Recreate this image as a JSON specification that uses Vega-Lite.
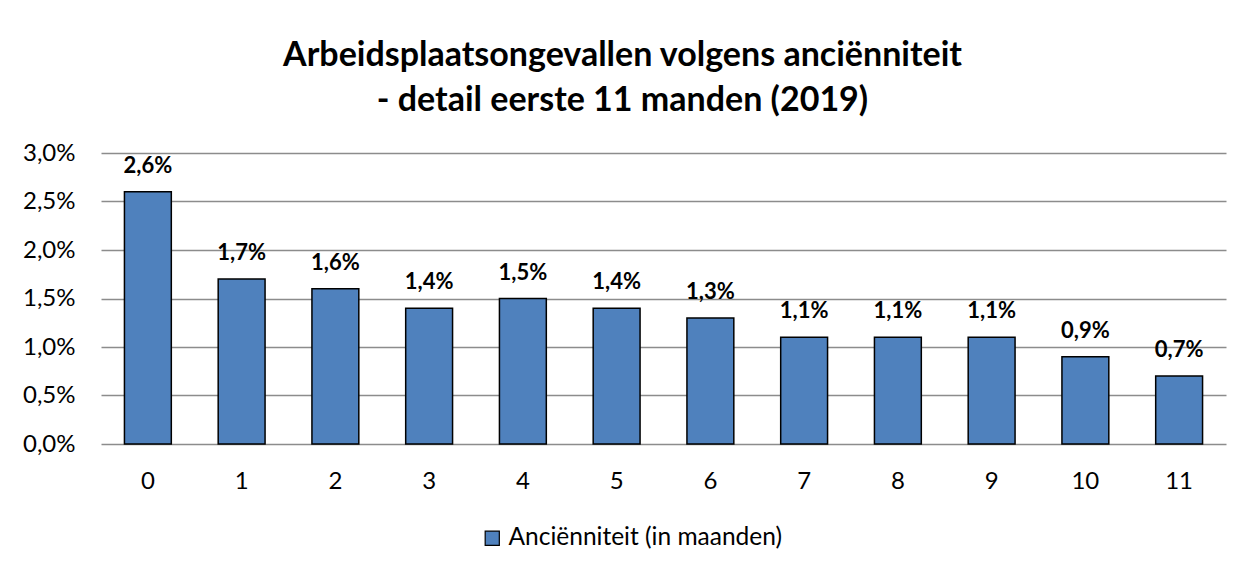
{
  "$schema": "https://vega.github.io/schema/vega-lite/v6.json",
  "autosize": "none",
  "width": 1125,
  "height": 291,
  "padding": {"left": 101, "top": 153, "right": 18, "bottom": 125},
  "background": "white",
  "config": {
    "locale": {"number": {"decimal": ",", "thousands": ".", "grouping": [3], "currency": ["€", ""]}},
    "font": "Lato",
    "view": {"stroke": null}
  },
  "title": {
    "text": ["Arbeidsplaatsongevallen volgens anciënniteit", "- detail eerste 11 manden (2019)"],
    "font": "Lato",
    "fontSize": 34,
    "fontWeight": "bold",
    "color": "#000000",
    "anchor": "middle",
    "lineHeight": 45,
    "dx": -41,
    "offset": 23
  },
  "data": {
    "values": [
      {"maand": "0", "waarde": 0.026, "serie": "Anciënniteit (in maanden)"},
      {"maand": "1", "waarde": 0.017, "serie": "Anciënniteit (in maanden)"},
      {"maand": "2", "waarde": 0.016, "serie": "Anciënniteit (in maanden)"},
      {"maand": "3", "waarde": 0.014, "serie": "Anciënniteit (in maanden)"},
      {"maand": "4", "waarde": 0.015, "serie": "Anciënniteit (in maanden)"},
      {"maand": "5", "waarde": 0.014, "serie": "Anciënniteit (in maanden)"},
      {"maand": "6", "waarde": 0.013, "serie": "Anciënniteit (in maanden)"},
      {"maand": "7", "waarde": 0.011, "serie": "Anciënniteit (in maanden)"},
      {"maand": "8", "waarde": 0.011, "serie": "Anciënniteit (in maanden)"},
      {"maand": "9", "waarde": 0.011, "serie": "Anciënniteit (in maanden)"},
      {"maand": "10", "waarde": 0.009, "serie": "Anciënniteit (in maanden)"},
      {"maand": "11", "waarde": 0.007, "serie": "Anciënniteit (in maanden)"}
    ]
  },
  "encoding": {
    "x": {
      "field": "maand",
      "type": "ordinal",
      "sort": null,
      "scale": {"paddingInner": 0.5, "paddingOuter": 0.25},
      "axis": {
        "title": null,
        "labelAngle": 0,
        "labelFont": "Lato",
        "labelFontSize": 24,
        "labelColor": "#000000",
        "labelPadding": 25,
        "ticks": false,
        "domain": false,
        "grid": false
      }
    },
    "y": {
      "field": "waarde",
      "type": "quantitative",
      "scale": {"domain": [0, 0.03], "nice": false},
      "axis": {
        "title": null,
        "format": ".1%",
        "values": [0, 0.005, 0.01, 0.015, 0.02, 0.025, 0.03],
        "labelFont": "Lato",
        "labelFontSize": 24,
        "labelColor": "#000000",
        "labelPadding": 26,
        "ticks": false,
        "domain": false,
        "grid": true,
        "gridColor": "#8c8c8c",
        "gridWidth": 1.5
      }
    }
  },
  "layer": [
    {
      "mark": {"type": "bar", "stroke": "#000000", "strokeWidth": 1.5},
      "encoding": {
        "color": {
          "field": "serie",
          "type": "nominal",
          "scale": {"range": ["#4F81BD"]},
          "legend": {
            "title": null,
            "orient": "none",
            "legendX": 379,
            "legendY": 373,
            "symbolType": "square",
            "symbolSize": 200,
            "symbolStrokeColor": "#000000",
            "symbolStrokeWidth": 1.2,
            "symbolOpacity": 1,
            "labelFont": "Lato",
            "labelFontSize": 24.5,
            "labelLimit": 0,
            "labelColor": "#000000",
            "labelOffset": 4
          }
        }
      }
    },
    {
      "mark": {"type": "text", "fontWeight": "bold", "fontSize": 22, "font": "Lato", "dy": -19, "baseline": "alphabetic", "color": "#000000"},
      "encoding": {
        "text": {"field": "waarde", "type": "quantitative", "format": ".1%"}
      }
    }
  ]
}
